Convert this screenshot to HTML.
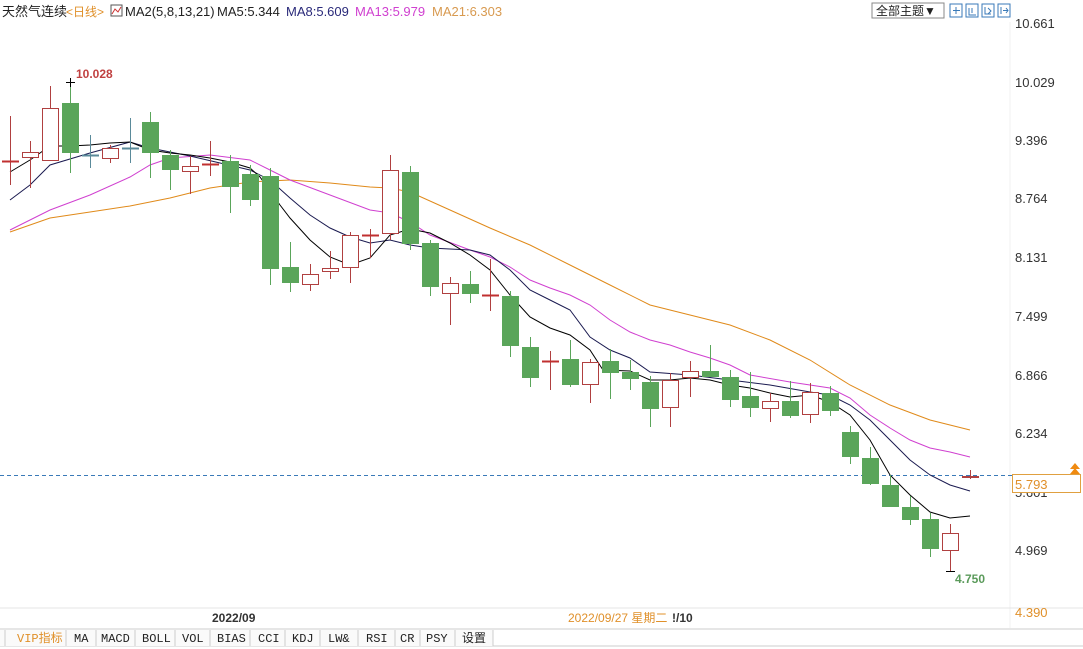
<!DOCTYPE html>
<html><head><meta charset="utf-8"><style>
body{margin:0;background:#fff;width:1083px;height:649px;overflow:hidden;font-family:"Liberation Sans","Noto Sans CJK SC",sans-serif}
svg{position:absolute;left:0;top:0}
</style></head><body>
<svg width="1083" height="649" viewBox="0 0 1083 649" xmlns="http://www.w3.org/2000/svg" font-family="Liberation Sans, Noto Sans CJK SC, sans-serif">
<rect width="1083" height="649" fill="#fff"/>
<line x1="1010" y1="22" x2="1010" y2="628" stroke="#f2f2f2"/>
<line x1="0" y1="608" x2="1083" y2="608" stroke="#e4e4e4"/>
<line x1="0" y1="629" x2="1083" y2="629" stroke="#ccc"/>
<line x1="0" y1="646" x2="1083" y2="646" stroke="#ccc"/>
<!-- legend -->
<text x="2" y="16" font-size="13" fill="#222">天然气连续</text>
<text x="66" y="16" font-size="12" fill="#e0902a">&lt;日线&gt;</text>
<rect x="111" y="5" width="11" height="11" fill="none" stroke="#555"/>
<polyline points="112,14 115,9 118,12 121,7" fill="none" stroke="#c33"/>
<text x="125" y="16" font-size="13" fill="#222">MA2(5,8,13,21)</text>
<text x="217" y="16" font-size="13" fill="#222">MA5:5.344</text>
<text x="286" y="16" font-size="13" fill="#2a2a7a">MA8:5.609</text>
<text x="355" y="16" font-size="13" fill="#d040d0">MA13:5.979</text>
<text x="432" y="16" font-size="13" fill="#d89a50">MA21:6.303</text>
<!-- top right buttons -->
<rect x="872" y="3" width="72" height="15" fill="#fff" stroke="#888"/>
<text x="876" y="15" font-size="12" fill="#222">全部主题▼</text>
<g fill="none" stroke="#3a7ab8">
<rect x="950" y="4" width="12" height="13"/><rect x="966" y="4" width="12" height="13"/><rect x="982" y="4" width="12" height="13"/><rect x="998" y="4" width="12" height="13"/>
</g>
<g stroke="#3a7ab8" fill="none"><path d="M956 7v7M953 10.5h7M969 8v7h7M972 8v5M985 7v7h6M988 8l3 3-3 3M1001 7v7M1003 10.5h5M1006 8l2 2.5-2 2.5"/></g>
<!-- y axis labels -->
<g font-size="13" fill="#333">
<text x="1015" y="28">10.661</text><text x="1015" y="87">10.029</text><text x="1015" y="145">9.396</text>
<text x="1015" y="203">8.764</text><text x="1015" y="262">8.131</text><text x="1015" y="321">7.499</text>
<text x="1015" y="380">6.866</text><text x="1015" y="438">6.234</text><text x="1015" y="497">5.601</text>
<text x="1015" y="555">4.969</text>
</g>
<text x="1015" y="617" font-size="13" fill="#e0902a">4.390</text>
<!-- dashed current price -->
<line x1="0" y1="475.5" x2="1012" y2="475.5" stroke="#3a7ab8" stroke-dasharray="4,3"/>
<rect x="1012.5" y="474.5" width="68" height="18" fill="#fff" stroke="#e0a040"/>
<text x="1015" y="489" font-size="13" fill="#e0902a">5.793</text>
<path d="M1070 474l5-6 5 6zM1070 469l5-6 5 6z" fill="#f08a10"/>
<!-- MAs -->
<polyline fill="none" stroke="#e08a1a" stroke-width="1" points="10,232 50,218 90,212 130,206 170,198 210,188 250,182 290,180 330,183 370,187 390,188 410,192 450,210 490,228 530,245 570,265 610,285 650,305 690,315 730,325 770,340 810,360 850,385 890,405 930,420 970,430"/>
<polyline fill="none" stroke="#d040d0" stroke-width="1" points="10,230 50,210 90,195 130,177 150,165 170,158 210,155 250,160 270,170 290,180 330,195 370,210 390,213 410,222 430,235 470,250 490,257 510,267 530,280 550,288 570,295 590,305 610,320 630,332 650,340 670,345 690,352 710,358 730,365 750,375 790,382 830,388 850,398 870,415 890,428 910,440 930,448 950,452 970,457"/>
<polyline fill="none" stroke="#1a1a50" stroke-width="1" points="10,200 30,185 50,165 90,153 130,142 150,148 190,156 250,170 270,180 290,198 310,215 330,228 350,237 370,243 390,240 410,245 430,248 470,250 490,255 510,270 530,290 550,300 570,310 590,337 610,350 630,358 650,372 690,375 730,380 770,385 810,392 830,395 850,405 870,420 890,440 910,460 930,475 950,485 970,491"/>
<polyline fill="none" stroke="#000" stroke-width="1" points="10,172 30,160 50,146 70,146 90,145 110,143 130,142 150,150 170,153 190,155 210,158 230,162 250,168 260,177 280,205 290,218 310,240 330,257 350,265 370,258 390,235 410,229 430,233 450,243 470,255 490,270 510,295 530,317 550,328 570,335 590,350 603,370 630,371 650,380 670,380 690,378 710,380 730,385 750,388 770,393 790,397 810,395 830,402 850,415 870,440 890,475 910,495 930,512 950,518 970,516"/>
<!-- candles -->
<g id="c"></g>
<text x="76" y="78" font-size="12" font-weight="bold" fill="#c04040">10.028</text>
<text x="955" y="583" font-size="12" font-weight="bold" fill="#5a9a5a">4.750</text>
<!-- x labels -->
<text x="212" y="622" font-size="12" font-weight="bold" fill="#333">2022/09</text>
<text x="568" y="622" font-size="12" fill="#e0902a">2022/09/27 星期二</text>
<text x="672" y="622" font-size="12" font-weight="bold" fill="#333">!/10</text>
<!-- tabs -->
<g font-size="12" fill="#222" font-family="Liberation Mono, Noto Sans CJK SC, monospace">
<rect x="0" y="630" width="493" height="16" fill="#fafafa"/>
<g stroke="#ccc"><line x1="5" y1="630" x2="5" y2="646"/><line x1="66" y1="630" x2="66" y2="646"/><line x1="96" y1="630" x2="96" y2="646"/><line x1="135" y1="630" x2="135" y2="646"/><line x1="175" y1="630" x2="175" y2="646"/><line x1="210" y1="630" x2="210" y2="646"/><line x1="250" y1="630" x2="250" y2="646"/><line x1="285" y1="630" x2="285" y2="646"/><line x1="320" y1="630" x2="320" y2="646"/><line x1="358" y1="630" x2="358" y2="646"/><line x1="395" y1="630" x2="395" y2="646"/><line x1="420" y1="630" x2="420" y2="646"/><line x1="455" y1="630" x2="455" y2="646"/><line x1="493" y1="630" x2="493" y2="646"/></g>
<text x="17" y="642" fill="#e0902a">VIP指标</text>
<text x="74" y="642">MA</text><text x="101" y="642">MACD</text><text x="142" y="642">BOLL</text>
<text x="182" y="642">VOL</text><text x="217" y="642">BIAS</text><text x="258" y="642">CCI</text>
<text x="292" y="642">KDJ</text><text x="328" y="642">LW&amp;</text><text x="366" y="642">RSI</text>
<text x="400" y="642">CR</text><text x="426" y="642">PSY</text><text x="462" y="642">设置</text>
</g>
</svg>
<script>
var d=[[10,'d',161,161,116,185],[30,'r',152,158,141,188],[50,'r',108,161,86,161],[70,'g',103,153,82,173],[90,'t',155,155,135,168],[110,'r',148,159,145,163],[130,'t',148,148,118,163],[150,'g',122,153,112,178],[170,'g',155,170,150,190],[190,'r',166,172,156,194],[210,'d',164,164,141,176],[230,'g',161,187,155,213],[250,'g',174,200,165,206],[270,'g',176,269,168,285],[290,'g',267,283,242,292],[310,'r',274,285,264,291],[330,'r',268,272,251,279],[350,'r',235,268,232,283],[370,'d',235,235,229,258],[390,'r',170,234,155,240],[410,'g',172,244,166,250],[430,'g',243,287,240,296],[450,'r',283,294,277,325],[470,'g',284,294,271,303],[490,'d',295,295,259,311],[510,'g',296,346,291,357],[530,'g',347,378,337,387],[550,'d',361,361,351,390],[570,'g',359,385,340,387],[590,'r',362,385,359,403],[610,'g',361,373,349,399],[630,'g',372,379,360,390],[650,'g',382,409,376,427],[670,'r',380,408,373,427],[690,'r',371,378,361,397],[710,'g',371,377,345,377],[730,'g',377,400,370,407],[750,'g',396,408,372,417],[770,'r',401,409,393,422],[790,'g',401,416,381,418],[810,'r',392,415,383,423],[830,'g',393,411,386,416],[850,'g',432,457,426,464],[870,'g',458,484,447,485],[890,'g',485,507,475,507],[910,'g',507,520,496,525],[930,'g',519,549,513,557],[950,'r',533,551,524,571],[970,'r',476,478,470,479]];
var s='';d.forEach(function(c){var x=c[0],t=c[1];
var col=t=='g'?'#5aa55a':(t=='t'?'#5a8a9a':'#b04040');
s+='<line x1="'+(x+.5)+'" y1="'+c[4]+'" x2="'+(x+.5)+'" y2="'+c[5]+'" stroke="'+col+'"/>';
if(t=='g')s+='<rect x="'+(x-8)+'" y="'+c[2]+'" width="17" height="'+(c[3]-c[2])+'" fill="#5aa55a"/>';
else if(t=='r')s+='<rect x="'+(x-7.5)+'" y="'+(c[2]+.5)+'" width="16" height="'+Math.max(1,c[3]-c[2]-1)+'" fill="#fff" stroke="#b04040"/>';
else s+='<line x1="'+(x-8)+'" y1="'+(c[2]+.5)+'" x2="'+(x+9)+'" y2="'+(c[2]+.5)+'" stroke="'+(t=='d'?'#c03030':col)+'" stroke-width="2"/>';});
s+='<path d="M66 82.5h9M70.5 78v9M946 571.5h9" stroke="#000"/>';
document.getElementById('c').innerHTML=s;
</script>
</body></html>
